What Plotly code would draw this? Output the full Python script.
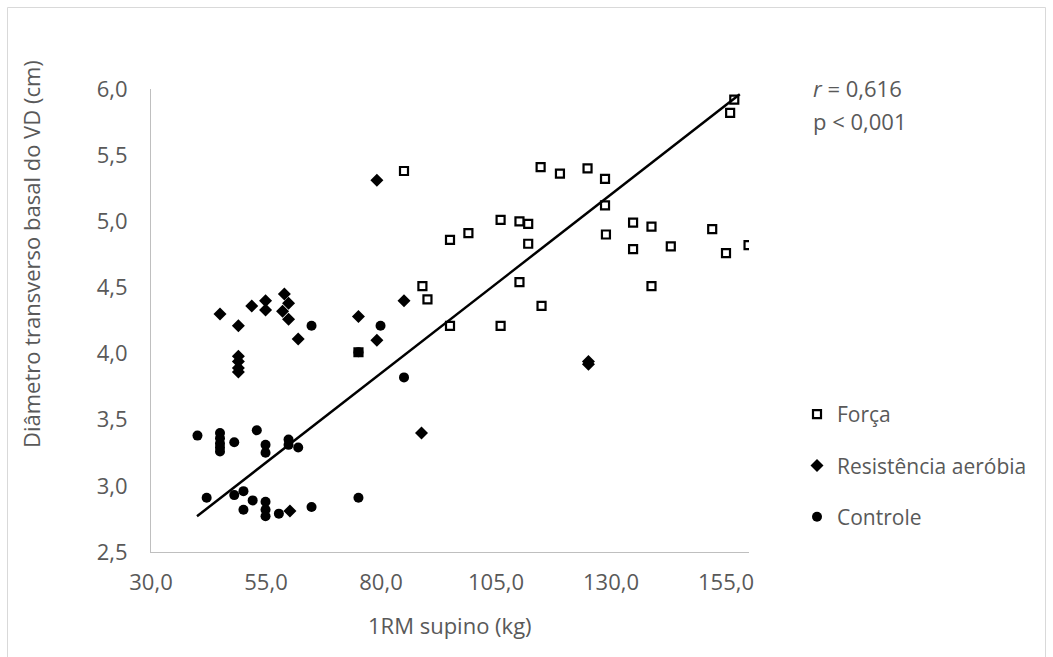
import numpy as np
import plotly.graph_objects as go

# ---- data ----
forca_x = [85.0, 89.0, 90.1, 95.0, 99.0, 95.0, 75.1, 106.0, 110.1, 112.0, 112.0, 110.1, 114.9, 106.0,
           114.7, 118.9, 124.9, 128.7, 128.7, 128.9, 134.8, 138.8, 134.8, 143.0, 138.8, 152.0, 155.0,
           159.9, 156.8, 155.9]
forca_y = [5.38, 4.51, 4.41, 4.86, 4.91, 4.21, 4.01, 5.01, 5.00, 4.98, 4.83, 4.54, 4.36, 4.21,
           5.41, 5.36, 5.40, 5.32, 5.12, 4.90, 4.99, 4.96, 4.79, 4.81, 4.51, 4.94, 4.76,
           4.82, 5.92, 5.82]

resist_x = [45.0, 49.0, 51.9, 54.9, 54.9, 59.0, 59.9, 58.6, 59.9, 62.0, 49.0, 49.0, 49.0, 49.0,
            79.1, 85.0, 75.1, 79.1, 88.8, 125.1, 125.1, 60.2]
resist_y = [4.30, 4.21, 4.36, 4.40, 4.33, 4.45, 4.38, 4.32, 4.26, 4.11, 3.98, 3.94, 3.89, 3.86,
            5.31, 4.40, 4.28, 4.10, 3.40, 3.94, 3.92, 2.81]

ctrl_x = [40.1, 45.0, 45.0, 45.0, 45.0, 45.0, 48.1, 53.0, 54.9, 54.9, 59.9, 59.9, 62.0,
          42.1, 48.1, 50.1, 50.1, 52.1, 54.9, 54.9, 54.9, 57.8, 64.9, 64.9, 79.9, 85.0, 75.1, 75.1]
ctrl_y = [3.38, 3.40, 3.36, 3.32, 3.29, 3.26, 3.33, 3.42, 3.31, 3.25, 3.35, 3.31, 3.29,
          2.91, 2.93, 2.96, 2.82, 2.89, 2.88, 2.82, 2.77, 2.79, 2.84, 4.21, 4.21, 3.82, 2.91, 4.01]

# trendline as shown in the reference
trend_slope = 0.02703
trend_intercept = 1.689
trend_x_range = [40.0, 158.0]

series_names = ["Força", "Resistência aeróbia", "Controle"]
stats_text = ["<i>r</i> = 0,616", "p < 0,001"]
x_title = "1RM supino (kg)"
y_title = "Diâmetro transverso basal do VD (cm)"

# ---- layout geometry (pixels) ----
W, H = 1053, 657
L, R, T, B = 151, 304, 89, 105
PW, PH = W - L - R, H - T - B

def px(x):
    return (x - L) / PW

def py(y):
    return (H - B - y) / PH

GRAY = "#595959"
FONT = "Open Sans"
FS_TICK = 22
FS_TITLE = 22
FS_LEG = 21
FS_STAT = 22

fig = go.Figure()

tx = np.array(trend_x_range)
fig.add_trace(go.Scatter(x=tx, y=trend_slope * tx + trend_intercept, mode="lines",
                         line=dict(color="black", width=2.5), showlegend=False, hoverinfo="skip"))

fig.add_trace(go.Scatter(x=ctrl_x, y=ctrl_y, mode="markers", name=series_names[2],
                         marker=dict(symbol="circle", size=10, color="black"),
                         legendrank=3, legendgroup="c"))
fig.add_trace(go.Scatter(x=resist_x, y=resist_y, mode="markers", name=series_names[1],
                         marker=dict(symbol="diamond", size=10, color="black"),
                         legendrank=2, legendgroup="b"))
fig.add_trace(go.Scatter(x=forca_x, y=forca_y, mode="markers", name=series_names[0],
                         marker=dict(symbol="square-open", size=8, color="black",
                                     line=dict(width=2.2, color="black")),
                         legendrank=1, legendgroup="a"))

fig.update_layout(
    width=W, height=H,
    margin=dict(l=L, r=R, t=T, b=B),
    paper_bgcolor="white", plot_bgcolor="white",
    separators=",.",
    font=dict(family=FONT, size=FS_TICK, color=GRAY),
    showlegend=True,
    legend=dict(x=px(797), y=py(394), xanchor="left", yanchor="top",
                font=dict(family=FONT, size=FS_LEG, color=GRAY),
                tracegroupgap=21, itemwidth=30, bgcolor="rgba(0,0,0,0)",
                traceorder="grouped"),
    xaxis=dict(range=[30, 160], tick0=30, dtick=25, tickformat=".1f",
               showgrid=False, zeroline=False, showline=True, linecolor="#BFBFBF", linewidth=1,
               ticks="", ticklabelstandoff=11,
               tickfont=dict(family=FONT, size=FS_TICK, color=GRAY)),
    yaxis=dict(range=[2.5, 6.0], tick0=2.5, dtick=0.5, tickformat=".1f",
               showgrid=False, zeroline=False, showline=True, linecolor="#BFBFBF", linewidth=1,
               ticks="", ticklabelstandoff=18,
               tickfont=dict(family=FONT, size=FS_TICK, color=GRAY)),
    shapes=[dict(type="rect", xref="paper", yref="paper",
                 x0=px(7.5), x1=px(1045.5), y0=py(665), y1=py(7.5),
                 line=dict(color="#D9D9D9", width=1), fillcolor="rgba(0,0,0,0)", layer="below")],
    annotations=[
        dict(text=x_title, xref="paper", yref="paper", x=px(450), y=py(625),
             xanchor="center", yanchor="middle", showarrow=False,
             font=dict(family=FONT, size=FS_TITLE, color=GRAY)),
        dict(text=y_title, xref="paper", yref="paper", x=px(31), y=py(254),
             xanchor="center", yanchor="middle", showarrow=False, textangle=-90,
             font=dict(family=FONT, size=FS_TITLE, color=GRAY)),
        dict(text=stats_text[0], xref="paper", yref="paper", x=px(811), y=py(88),
             xanchor="left", yanchor="middle", showarrow=False,
             font=dict(family=FONT, size=FS_STAT, color=GRAY)),
        dict(text=stats_text[1], xref="paper", yref="paper", x=px(811), y=py(121),
             xanchor="left", yanchor="middle", showarrow=False,
             font=dict(family=FONT, size=FS_STAT, color=GRAY)),
    ],
)

fig.write_html("out.html")
